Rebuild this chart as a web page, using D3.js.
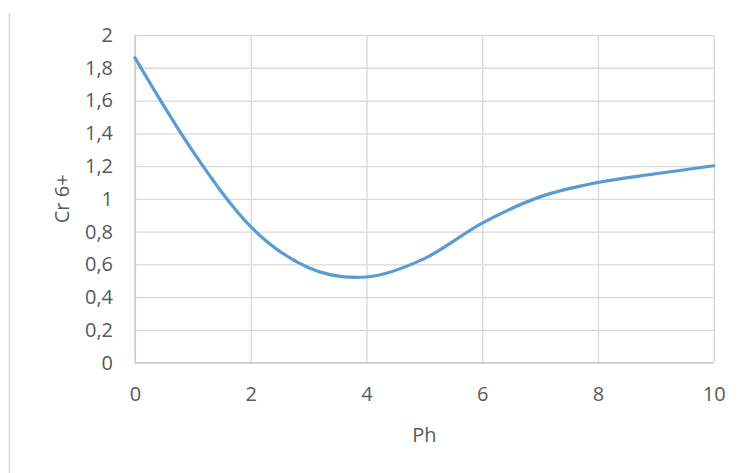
<!DOCTYPE html>
<html>
<head>
<meta charset="utf-8">
<script src="https://cdn.jsdelivr.net/npm/d3@7"></script>
<style>
  html, body { margin: 0; padding: 0; background: #fff; }
  svg { display: block; }
  text { font-family: "Open Sans", "Liberation Sans", sans-serif; fill: #595959; }
</style>
</head>
<body>
<svg id="chart" width="745" height="473"></svg>
<script>
// Data
const phValues = [0, 1, 2, 3, 4, 5, 6, 7, 8, 9, 10];
const crValues = [1.86, 1.29, 0.83, 0.58, 0.523, 0.635, 0.852, 1.012, 1.10, 1.153, 1.202];
const xTicks = [0, 2, 4, 6, 8, 10];
const yTicks = [0, 0.2, 0.4, 0.6, 0.8, 1, 1.2, 1.4, 1.6, 1.8, 2];
const xTitle = "Ph";
const yTitle = "Cr 6+";

(function () {
const svg = d3.select("#chart");
const W = 745, H = 473;
const pL = 135, pR = 713.7, pT = 35, pB = 362.7;
const FS = 20;

const x = d3.scaleLinear().domain([0, 10]).range([pL, pR]);
const y = d3.scaleLinear().domain([0, 2]).range([pB, pT]);
const fmt = d => String(+d.toFixed(1)).replace(".", ",");

// left border line of the chart area
svg.append("line")
  .attr("x1", 9.5).attr("x2", 9.5).attr("y1", 13).attr("y2", H)
  .attr("stroke", "#D9D9D9").attr("stroke-width", 1.5);

// horizontal gridlines
const gy = svg.append("g").attr("transform", `translate(${pL},0)`)
  .call(d3.axisLeft(y).tickValues(yTicks).tickSize(-(pR - pL)).tickFormat(fmt).tickPadding(22));
gy.select(".domain").remove();
gy.selectAll(".tick line").attr("stroke", "#D9D9D9").attr("stroke-width", 1.3);
gy.selectAll(".tick text").attr("font-size", FS).attr("fill", "#595959")
  .style("font-family", "'Open Sans', sans-serif");

// vertical gridlines
const gx = svg.append("g").attr("transform", `translate(0,${pB})`)
  .call(d3.axisBottom(x).tickValues(xTicks).tickSize(-(pB - pT)).tickFormat(d => d).tickPadding(24));
gx.select(".domain").remove();
gx.selectAll(".tick line").attr("stroke", "#D9D9D9").attr("stroke-width", 1.3);
gx.selectAll(".tick text").attr("font-size", FS).attr("fill", "#595959")
  .style("font-family", "'Open Sans', sans-serif");

// axis lines
svg.append("line").attr("x1", pL).attr("x2", pR).attr("y1", pB).attr("y2", pB)
  .attr("stroke", "#C8C8C8").attr("stroke-width", 1.3);
svg.append("line").attr("x1", pL).attr("x2", pL).attr("y1", pT).attr("y2", pB)
  .attr("stroke", "#C8C8C8").attr("stroke-width", 1.3);

// data line
const line = d3.line()
  .x((d, i) => x(phValues[i]))
  .y(d => y(d))
  .curve(d3.curveCatmullRom.alpha(0));
svg.append("path")
  .datum(crValues)
  .attr("d", line)
  .attr("fill", "none")
  .attr("stroke", "#5B9BD5")
  .attr("stroke-width", 3.2)
  .attr("stroke-linecap", "round");

// axis titles
svg.append("text")
  .attr("x", (pL + pR) / 2).attr("y", 442)
  .attr("text-anchor", "middle").attr("font-size", FS)
  .text(xTitle);
svg.append("text")
  .attr("transform", `translate(61,${(pT + pB) / 2}) rotate(-90)`)
  .attr("text-anchor", "middle").attr("dominant-baseline", "central").attr("font-size", FS)
  .text(yTitle);
})();
</script>
</body>
</html>
